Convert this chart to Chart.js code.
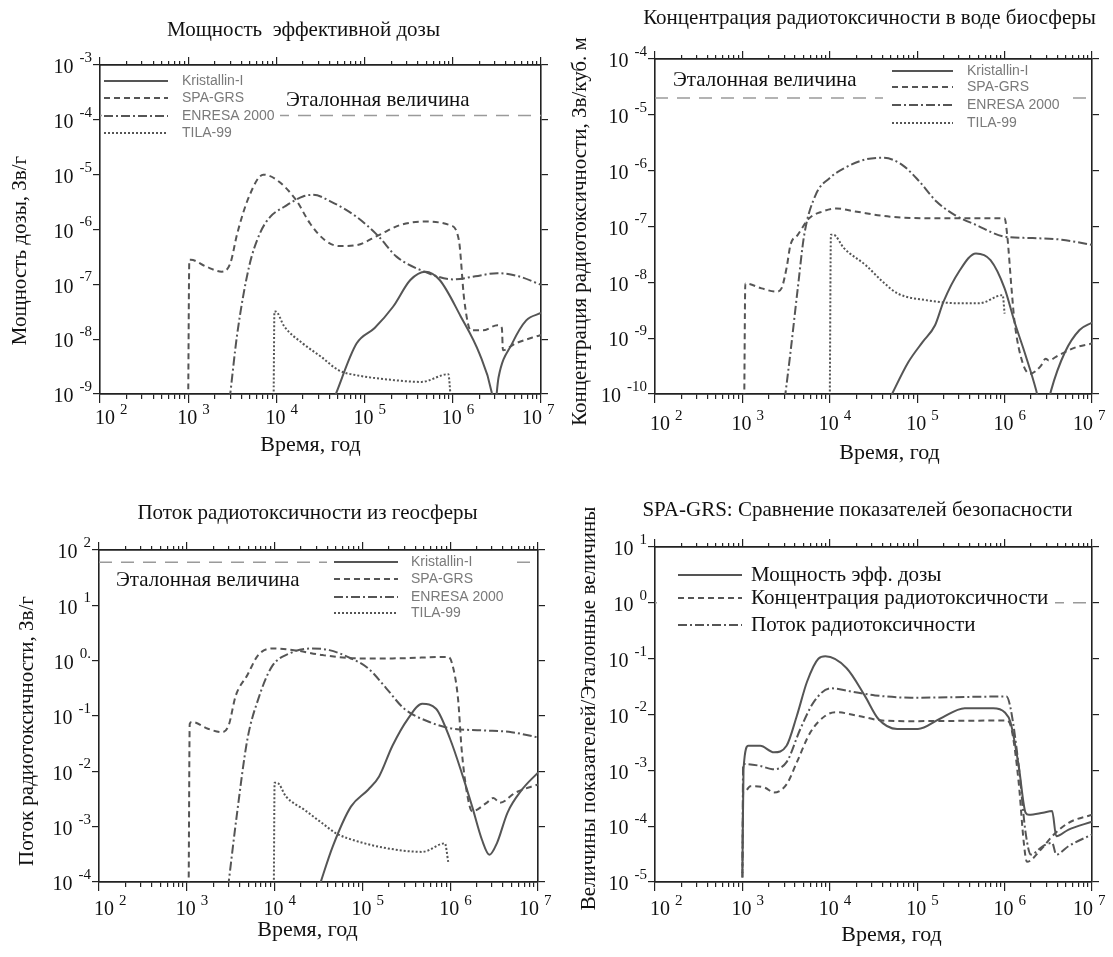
<!DOCTYPE html>
<html>
<head>
<meta charset="utf-8">
<script src="https://cdn.jsdelivr.net/npm/chart.js@4.4.0/dist/chart.umd.min.js"></script>
<style>
  body { margin: 0; background: #fff; }
  #wrap { position: relative; width: 1113px; height: 957px; background: #fff; }
  canvas { position: absolute; }
</style>
</head>
<body>
<div id="wrap">
  <canvas id="c1" width="556" height="478" style="left:0px;top:0px"></canvas>
  <canvas id="c2" width="557" height="478" style="left:556px;top:0px"></canvas>
  <canvas id="c3" width="556" height="479" style="left:0px;top:478px"></canvas>
  <canvas id="c4" width="557" height="479" style="left:556px;top:478px"></canvas>
</div>
<script>
// tick exponents (10^n) on the axes
const timeExp = ['2', '3', '4', '5', '6', '7'];
const doseExp = ['-9', '-8', '-7', '-6', '-5', '-4', '-3'];
const concExp = ['-10', '-9', '-8', '-7', '-6', '-5', '-4'];
const fluxExp = ['-4', '-3', '-2', '-1', '0.', '1', '2'];
const ratioExp = ['-5', '-4', '-3', '-2', '-1', '0', '1'];

// reference values ("Эталонная величина")
const doseRef = 1.2e-4;
const concRef = 2.0e-5;
const fluxRef = 60;
const ratioRef = 1;

const modelNames = ['Kristallin-I', 'SPA-GRS', 'ENRESA 2000', 'TILA-99'];
const ratioNames = ['Мощность эфф. дозы', 'Концентрация радиотоксичности', 'Поток радиотоксичности'];

// [time, value] — effective dose rate, Sv/yr
const doseKristallin = [[4.6e4, 9e-10], [8.1e4, 8.3e-9], [1.3e5, 1.6e-8], [2.1e5, 3.9e-8], [3.3e5, 1.2e-7], [4.9e5, 1.7e-7], [7.1e5, 1.2e-7], [1.23e6, 2.6e-8], [2.0e6, 5.5e-9], [2.75e6, 1.1e-9], [2.95e6, 5e-10], [3.3e6, 2.0e-9], [4.7e6, 8.3e-9], [6.8e6, 2.2e-8], [1e7, 3.0e-8]];
const doseSpa = [[1.0e3, 8e-10], [1.03e3, 2.8e-7], [1.07e3, 2.8e-7], [1.6e3, 2.1e-7], [2.4e3, 1.7e-7], [3.0e3, 2.4e-7], [3.6e3, 8.5e-7], [4.9e3, 4.0e-6], [7.1e3, 1.0e-5], [1.0e4, 8.1e-6], [1.66e4, 3.5e-6], [2.4e4, 1.3e-6], [3.5e4, 6.5e-7], [5.1e4, 5.0e-7], [8.1e4, 5.2e-7], [1.45e5, 7.9e-7], [2.5e5, 1.2e-6], [4.9e5, 1.4e-6], [9.3e5, 1.2e-6], [1.17e6, 6.5e-7], [1.35e6, 5.1e-8], [1.6e6, 1.45e-8], [2.2e6, 1.45e-8], [3.2e6, 1.8e-8], [3.6e6, 1.6e-8], [3.7e6, 6.3e-9], [5.1e6, 8.3e-9], [1e7, 1.2e-8]];
const doseEnresa = [[2.95e3, 8e-10], [3.6e3, 1.26e-8], [4.9e3, 2.1e-7], [6.5e3, 8.5e-7], [8.5e3, 1.7e-6], [1.23e4, 2.6e-6], [2.0e4, 4.0e-6], [2.6e4, 4.3e-6], [4.2e4, 3.2e-6], [8.1e4, 1.7e-6], [1.45e5, 7.4e-7], [2.3e5, 3.2e-7], [4.4e5, 1.8e-7], [1.02e6, 1.23e-7], [1.8e6, 1.4e-7], [3.2e6, 1.6e-7], [5.6e6, 1.4e-7], [1e7, 9.8e-8]];
const doseTila = [[9.3e3, 8e-10], [9.5e3, 3.2e-8], [9.8e3, 3.2e-8], [1.23e4, 1.7e-8], [2.0e4, 8.3e-9], [3.2e4, 4.8e-9], [5.1e4, 2.7e-9], [8.1e4, 2.2e-9], [2.1e5, 1.8e-9], [4.4e5, 1.66e-9], [8.9e5, 2.3e-9], [9.5e5, 8e-10]];

// radiotoxicity concentration in biosphere water, Sv/m3
const concKristallin = [[4.8e4, 8e-11], [7.9e4, 3.7e-10], [1.15e5, 8.5e-10], [1.6e5, 1.7e-9], [2.0e5, 4.5e-9], [3.0e5, 1.55e-8], [4.7e5, 3.3e-8], [6.9e5, 2.5e-8], [1e6, 7.8e-9], [1.3e6, 1.95e-9], [1.74e6, 4.9e-10], [2.3e6, 1.15e-10], [2.8e6, 3e-11], [3.4e6, 1.15e-10], [4.9e6, 5.6e-10], [7.2e6, 1.4e-9], [1e7, 1.9e-9]];
const concSpa = [[1.05e3, 8e-11], [1.08e3, 9.5e-9], [1.1e3, 9.5e-9], [1.66e3, 7.8e-9], [2.45e3, 6.8e-9], [2.8e3, 7.8e-9], [3.2e3, 1.8e-8], [3.55e3, 4.7e-8], [4.3e3, 7.1e-8], [5.8e3, 1.4e-7], [8.3e3, 1.86e-7], [1.2e4, 2.1e-7], [1.95e4, 1.86e-7], [4.9e4, 1.5e-7], [2.0e5, 1.4e-7], [1e6, 1.4e-7], [1.07e6, 7.1e-8], [1.2e6, 7.8e-9], [1.3e6, 1.95e-9], [1.6e6, 3.7e-10], [1.95e6, 2.3e-10], [2.6e6, 3.2e-10], [2.95e6, 4.3e-10], [3.2e6, 4.0e-10], [4.1e6, 4.9e-10], [6.6e6, 6.9e-10], [1e7, 8.0e-10]];
const concEnresa = [[3.05e3, 8e-11], [3.55e3, 5.6e-10], [4.3e3, 7.8e-9], [5.1e3, 7.1e-8], [6.9e3, 3.7e-7], [1e4, 7.4e-7], [1.45e4, 1.1e-6], [2.6e4, 1.6e-6], [4.1e4, 1.7e-6], [6.6e4, 1.3e-6], [1.05e5, 6.5e-7], [1.66e5, 2.8e-7], [2.7e5, 1.6e-7], [4.7e5, 1.07e-7], [1e6, 6.6e-8], [2.1e6, 6.2e-8], [4.5e6, 5.8e-8], [1e7, 4.7e-8]];
const concTila = [[1.0e4, 8e-11], [1.03e4, 7.1e-8], [1.1e4, 7.1e-8], [1.45e4, 4.1e-8], [2.6e4, 2.0e-8], [4.1e4, 1.0e-8], [6.0e4, 6.3e-9], [1.26e5, 4.8e-9], [3.2e5, 4.2e-9], [5.1e5, 4.2e-9], [9.5e5, 5.9e-9], [1e6, 2.75e-9]];

// radiotoxicity flux from geosphere, Sv/yr
const fluxKristallin = [[3.2e4, 8e-5], [4.6e4, 4.4e-4], [7.4e4, 2.3e-3], [1.17e5, 4.7e-3], [1.55e5, 8.1e-3], [2.2e5, 2.9e-2], [3.3e5, 8.9e-2], [4.8e5, 0.166], [6.9e5, 0.135], [1e6, 3.8e-2], [1.35e6, 9.5e-3], [1.78e6, 2.3e-3], [2.3e6, 5.8e-4], [2.8e6, 3.1e-4], [3.4e6, 5.0e-4], [4.5e6, 1.8e-3], [6.6e6, 4.7e-3], [1e7, 9.5e-3]];
const fluxSpa = [[1.05e3, 8e-5], [1.08e3, 7.2e-2], [1.15e3, 7.8e-2], [1.74e3, 5.9e-2], [2.5e3, 5.1e-2], [3.0e3, 6.8e-2], [3.6e3, 0.23], [4.9e3, 0.55], [6.5e3, 1.26], [9.3e3, 1.66], [1.66e4, 1.55], [3.5e4, 1.26], [8.9e4, 1.1], [2.2e5, 1.1], [9.5e5, 1.17], [1.05e6, 0.89], [1.23e6, 0.2], [1.35e6, 2.5e-2], [1.55e6, 4.1e-3], [1.78e6, 1.9e-3], [2.6e6, 2.7e-3], [3.1e6, 3.3e-3], [3.7e6, 2.7e-3], [5.5e6, 4.1e-3], [1e7, 5.8e-3]];
const fluxEnresa = [[2.95e3, 8e-5], [3.7e3, 1.55e-3], [4.9e3, 3.8e-2], [6.5e3, 0.2], [9.3e3, 0.78], [1.48e4, 1.35], [2.6e4, 1.66], [4.2e4, 1.55], [6.8e4, 1.17], [1.17e5, 0.72], [1.86e5, 0.32], [3.0e5, 0.135], [5.8e5, 7.8e-2], [1e6, 6.0e-2], [2.3e6, 5.5e-2], [5.0e6, 5.1e-2], [1e7, 4.1e-2]];
const fluxTila = [[9.8e3, 8e-5], [1.0e4, 6.2e-3], [1.07e4, 6.2e-3], [1.35e4, 3.5e-3], [2.2e4, 2.0e-3], [3.5e4, 1.15e-3], [5.0e4, 7.6e-4], [8.9e4, 5.4e-4], [1.86e5, 4.1e-4], [4.8e5, 3.5e-4], [8.7e5, 5.0e-4], [9.5e5, 2.3e-4]];

// SPA-GRS: indicator / reference value
const ratioDose = [[1.0e3, 1.45e-5], [1.03e3, 1.05e-3], [1.17e3, 2.75e-3], [1.6e3, 2.75e-3], [2.3e3, 2.1e-3], [3.2e3, 2.75e-3], [4.2e3, 9.5e-3], [5.5e3, 3.9e-2], [7.4e3, 0.1], [8.9e3, 0.11], [1.55e4, 6.8e-2], [2.5e4, 2.2e-2], [3.6e4, 8.3e-3], [5.9e4, 5.5e-3], [1.02e5, 5.5e-3], [1.8e5, 8.3e-3], [3.5e5, 1.3e-2], [7.4e5, 1.3e-2], [1e6, 1.1e-2], [1.17e6, 7.2e-3], [1.45e6, 1.2e-3], [1.74e6, 1.74e-4], [1.9e6, 1.6e-4], [2.75e6, 1.74e-4], [3.5e6, 1.86e-4], [3.9e6, 6.6e-5], [5.4e6, 8.7e-5], [1e7, 1.2e-4]];
const ratioConc = [[1.0e3, 1.2e-5], [1.02e3, 4.0e-4], [1.05e3, 4.0e-4], [1.23e3, 5.2e-4], [1.8e3, 4.9e-4], [2.3e3, 4.0e-4], [3.2e3, 5.6e-4], [4.2e3, 1.4e-3], [6.0e3, 4.8e-3], [8.9e3, 9.5e-3], [1.17e4, 1.1e-2], [2.1e4, 9.5e-3], [4.0e4, 7.8e-3], [8.5e4, 7.6e-3], [1.05e6, 7.8e-3], [1.2e6, 5.5e-3], [1.45e6, 6.0e-4], [1.66e6, 5.0e-5], [1.8e6, 2.3e-5], [2.6e6, 3.8e-5], [3.5e6, 6.6e-5], [5.4e6, 1.15e-4], [1e7, 1.6e-4]];
const ratioFlux = [[1.0e3, 1.2e-5], [1.02e3, 1.3e-3], [1.05e3, 1.3e-3], [1.6e3, 1.2e-3], [2.2e3, 1.05e-3], [3.2e3, 1.4e-3], [4.6e3, 5.5e-3], [6.6e3, 1.7e-2], [1.02e4, 2.95e-2], [1.7e4, 2.6e-2], [3.3e4, 2.2e-2], [8.5e4, 2.0e-2], [1.05e6, 2.1e-2], [1.17e6, 1.3e-2], [1.45e6, 1.2e-3], [1.74e6, 7.6e-5], [2.0e6, 3.1e-5], [2.75e6, 4.4e-5], [3.5e6, 5.0e-5], [3.9e6, 3.1e-5], [5.4e6, 4.4e-5], [1e7, 7.1e-5]];

const LINE = '#555';
const AXIS = '#222';
const SERIF = '"Liberation Serif", "DejaVu Serif", serif';
const SANS = '"Liberation Sans", Arial, sans-serif';
const modelDash = [[], [6, 4], [9, 3, 2, 3], [2, 2]];

const expVal = e => Math.pow(10, parseFloat(e));
function minorVals(exps) {
    const out = [];
    for (let i = 0; i < exps.length - 1; i++) {
        for (let k = 2; k <= 9; k++) out.push(k * expVal(exps[i]));
    }
    return out;
}

function logAxis(pos, exps, values, len) {
    return {
        type: 'logarithmic',
        position: pos,
        min: expVal(exps[0]),
        max: expVal(exps[exps.length - 1]),
        ticks: { display: false },
        grid: { drawOnChartArea: false, drawTicks: true, tickLength: len, color: AXIS, lineWidth: 1.2 },
        border: { display: true, color: AXIS, width: 1.6 },
        afterBuildTicks: s => { s.ticks = values.map(v => ({ value: v })); },
        afterFit: s => { if (s.isHorizontal()) s.height = 0; else s.width = 0; }
    };
}

// draws titles, superscript tick labels, reference label and the legend box
const panelText = {
    id: 'panelText',
    afterDraw(chart, args, o) {
        const ctx = chart.ctx;
        const a = chart.chartArea;
        const xs = chart.scales.x, ys = chart.scales.y;
        const cx = (a.left + a.right) / 2, cy = (a.top + a.bottom) / 2;
        ctx.save();
        ctx.fillStyle = '#111';
        ctx.textBaseline = 'middle';

        // y tick labels
        o.yExp.forEach(e => {
            const py = ys.getPixelForValue(expVal(e));
            ctx.font = '15px ' + SERIF;
            ctx.textAlign = 'right';
            const w = ctx.measureText(e).width;
            ctx.fillText(e, a.left - 8, py - 7);
            ctx.font = '20px ' + SERIF;
            ctx.fillText('10', a.left - 8 - w - 6, py + 3);
        });

        // x tick labels
        timeExp.forEach((e, i) => {
            const px = xs.getPixelForValue(expVal(e));
            const shift = i === 0 ? 5 : (i === timeExp.length - 1 ? -9 : -1);
            ctx.font = '20px ' + SERIF;
            ctx.textAlign = 'left';
            const w = ctx.measureText('10').width;
            ctx.fillText('10', px - w / 2 + shift, a.bottom + o.tickDy);
            ctx.font = '15px ' + SERIF;
            ctx.fillText(e, px + w / 2 + shift + 5, a.bottom + o.tickDy - 9);
        });

        ctx.font = '21px ' + SERIF;
        ctx.textAlign = 'center';
        ctx.fillText(o.title, cx + o.titlePos[0], a.top + o.titlePos[1]);

        ctx.font = '22px ' + SERIF;
        ctx.fillText('Время, год', cx + o.xTitlePos[0], a.bottom + o.xTitlePos[1]);

        ctx.font = '21px ' + SERIF;
        ctx.save();
        ctx.translate(o.yTitlePos[0], cy + o.yTitlePos[1]);
        ctx.rotate(-Math.PI / 2);
        ctx.fillText(o.yTitle, 0, 0);
        ctx.restore();

        // legend
        const lg = o.legend;
        ctx.fillStyle = '#fff';
        ctx.fillRect(a.left + lg.box[0], a.top + lg.box[1], lg.box[2] - lg.box[0], lg.box[3] - lg.box[1]);
        lg.names.forEach((name, i) => {
            const y = a.top + lg.rows[i];
            ctx.strokeStyle = LINE;
            ctx.lineWidth = 2;
            ctx.setLineDash(lg.dash[i]);
            ctx.beginPath();
            ctx.moveTo(a.left + lg.sample[0], y);
            ctx.lineTo(a.left + lg.sample[1], y);
            ctx.stroke();
            ctx.setLineDash([]);
            ctx.fillStyle = lg.color;
            ctx.font = lg.font;
            ctx.textAlign = 'left';
            ctx.fillText(name, a.left + lg.textX, y);
        });

        if (o.refText) {
            ctx.fillStyle = '#111';
            ctx.font = '21px ' + SERIF;
            ctx.textAlign = 'left';
            ctx.fillText('Эталонная величина', a.left + o.refText[0], a.top + o.refText[1]);
        }
        ctx.restore();
    }
};

function makePanel(id, p) {
    const datasets = p.series.map((s, i) => ({
        label: p.legend.names[i],
        data: s.map(d => ({ x: d[0], y: d[1] })),
        borderColor: LINE,
        borderWidth: 2,
        borderDash: p.legend.dash[i],
        pointRadius: 0,
        cubicInterpolationMode: 'monotone',
        fill: false
    }));
    // reference level, dashed, across the whole time range
    datasets.unshift({
        label: 'ref',
        data: [{ x: 1e2, y: p.ref }, { x: 1e7, y: p.ref }],
        borderColor: '#9a9a9a',
        borderWidth: 1.5,
        borderDash: [13, 9],
        pointRadius: 0,
        fill: false
    });

    const xMajor = timeExp.map(expVal);
    const xMinor = minorVals(timeExp);
    const yMajor = p.yExp.map(expVal);

    new Chart(document.getElementById(id), {
        type: 'line',
        data: { datasets },
        options: {
            responsive: false,
            animation: false,
            events: [],
            layout: { padding: p.pad },
            scales: {
                x: logAxis('bottom', timeExp, xMajor, 9),
                xm: logAxis('bottom', timeExp, xMinor, 5),
                xt: logAxis('top', timeExp, xMajor, 8),
                xtm: logAxis('top', timeExp, xMinor, 4),
                y: logAxis('left', p.yExp, yMajor, 7),
                yr: logAxis('right', p.yExp, yMajor, 7)
            },
            plugins: {
                legend: { display: false },
                tooltip: { enabled: false },
                panelText: p
            }
        },
        plugins: [panelText]
    });
}

const smallLegend = { font: '14px ' + SANS, color: '#7a7a7a', names: modelNames, dash: modelDash };

makePanel('c1', {
    series: [doseKristallin, doseSpa, doseEnresa, doseTila],
    yExp: doseExp, ref: doseRef,
    title: 'Мощность  эффективной дозы', yTitle: 'Мощность дозы, Зв/г',
    pad: { left: 100, top: 65, right: 15, bottom: 84 },
    tickDy: 25, titlePos: [-17, -35], xTitlePos: [-10, 51], yTitlePos: [20, 21],
    refText: [186, 35],
    legend: Object.assign({ box: [2, 3, 180, 78], rows: [16, 33, 51, 68], sample: [4, 68], textX: 82 }, smallLegend)
});

makePanel('c2', {
    series: [concKristallin, concSpa, concEnresa, concTila],
    yExp: concExp, ref: concRef,
    title: 'Концентрация радиотоксичности в воде биосферы', yTitle: 'Концентрация радиотоксичности, Зв/куб. м',
    pad: { left: 99, top: 59, right: 21, bottom: 84 },
    tickDy: 31, titlePos: [-4, -41], xTitlePos: [16, 59], yTitlePos: [24, 5],
    refText: [18, 21],
    legend: Object.assign({ box: [228, 2, 410, 75], rows: [12, 28, 46, 64], sample: [237, 298], textX: 312 }, smallLegend)
});

makePanel('c3', {
    series: [fluxKristallin, fluxSpa, fluxEnresa, fluxTila],
    yExp: fluxExp, ref: fluxRef,
    title: 'Поток радиотоксичности из геосферы', yTitle: 'Поток радиотоксичности, Зв/г',
    pad: { left: 99, top: 72, right: 18, bottom: 75 },
    tickDy: 28, titlePos: [-11, -37], xTitlePos: [-11, 48], yTitlePos: [27, 15],
    refText: [17, 30],
    legend: Object.assign({ box: [228, 4, 410, 72], rows: [12, 29, 47, 63], sample: [235, 299], textX: 312 }, smallLegend)
});

makePanel('c4', {
    series: [ratioDose, ratioConc, ratioFlux],
    yExp: ratioExp, ref: ratioRef,
    title: 'SPA-GRS: Сравнение показателей безопасности', yTitle: 'Величины показателей/Эталонные величины',
    pad: { left: 99, top: 69, right: 21, bottom: 75 },
    tickDy: 28, titlePos: [-16, -37], xTitlePos: [18, 53], yTitlePos: [33, -6],
    refText: null,
    legend: { box: [2, 12, 400, 95], rows: [28, 51, 78], sample: [23, 87], textX: 96, font: '21px ' + SERIF, color: '#111', names: ratioNames, dash: modelDash.slice(0, 3) }
});
</script>
</body>
</html>
